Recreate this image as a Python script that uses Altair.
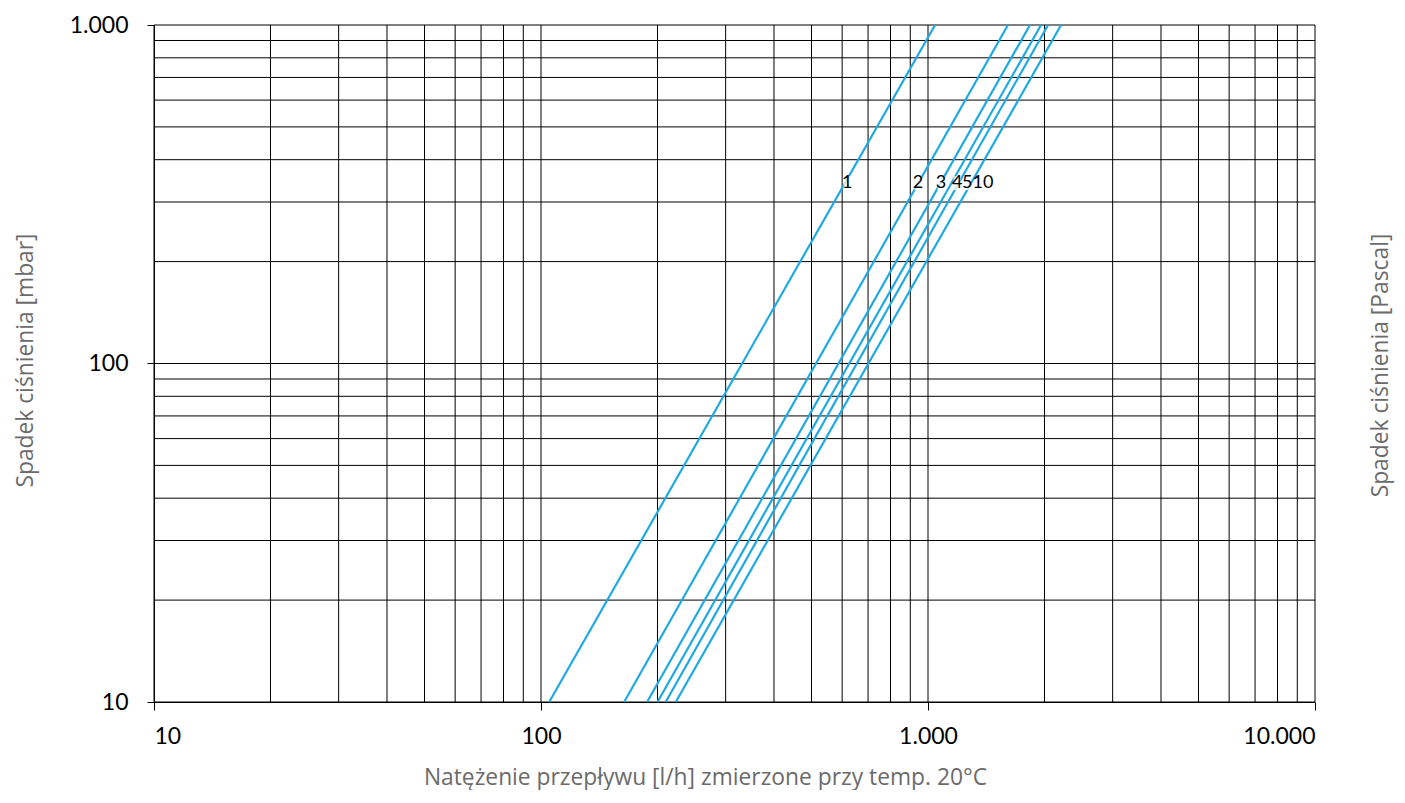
import altair as alt
import pandas as pd

# ---- data ----
series = ["1", "2", "3", "4", "5", "10"]
flow_at_10_mbar = [105, 164, 188, 200, 210, 223]        # l/h where each line meets 10 mbar
flow_at_1000_mbar = [1043, 1609, 1834, 1959, 2042, 2207]  # l/h where each line meets 1000 mbar
pressure_ends = [10, 1000]

label_flow = [618, 942, 1081, 1189, 1262, 1387]
label_pressure = [341, 341, 341, 341, 341, 341]

grid_x = [10, 20, 30, 40, 50, 60, 70, 80, 90,
          100, 200, 300, 400, 500, 600, 700, 800, 900,
          1000, 2000, 3000, 4000, 5000, 6000, 7000, 8000, 9000, 10000]
grid_y = [10, 20, 30, 40, 50, 60, 70, 80, 90,
          100, 200, 300, 400, 500, 600, 700, 800, 900, 1000]
x_major = [10, 100, 1000, 10000]
y_major = [10, 100, 1000]

# ---- tables ----
rows = []
for s, q0, q1 in zip(series, flow_at_10_mbar, flow_at_1000_mbar):
    rows.append({"series": s, "flow": q0, "pressure": pressure_ends[0]})
    rows.append({"series": s, "flow": q1, "pressure": pressure_ends[1]})
lines_df = pd.DataFrame(rows)
labels_df = pd.DataFrame({"label": series, "flow": label_flow, "pressure": label_pressure})
gx_df = pd.DataFrame({"v": grid_x})
gy_df = pd.DataFrame({"v": grid_y})

FONT = "Lato"
TFONT = "Open Sans"
TSIZE = 22.8
TITLE_COLOR = "#6b6b6b"
LINE_COLOR = "#1fa9e1"

xscale = alt.Scale(type="log", domain=[10, 10000], nice=False)
yscale = alt.Scale(type="log", domain=[10, 1000], nice=False)

x_axis = alt.Axis(
    values=x_major, grid=False, tickSize=8, tickColor="black", domainColor="black",
    labelColor="black", labelFontSize=23, labelFont=FONT, labelPadding=15,
    labelExpr="replace(format(datum.value, ','), ',', '.')",
    title="Natężenie przepływu [l/h] zmierzone przy temp. 20°C",
    titleFont=TFONT, titleFontSize=TSIZE, titleFontWeight="normal", titleColor=TITLE_COLOR,
    titleX=551, titleY=82, titleBaseline="alphabetic", titleAlign="center",
)
y_axis = alt.Axis(
    values=y_major, grid=False, tickSize=7, tickColor="black", domainColor="black",
    labelColor="black", labelFontSize=23, labelFont=FONT, labelPadding=19,
    labelExpr="replace(format(datum.value, ','), ',', '.')",
    title="Spadek ciśnienia [mbar]",
    titleFont=TFONT, titleFontSize=TSIZE, titleFontWeight="normal", titleColor=TITLE_COLOR,
    titleAngle=270, titleX=-129, titleY=335, titleBaseline="middle", titleAlign="center",
)

grid_v = alt.Chart(gx_df).mark_rule(color="black", strokeWidth=1).encode(
    x=alt.X("v:Q", scale=xscale, axis=x_axis)
)
grid_h = alt.Chart(gy_df).mark_rule(color="black", strokeWidth=1).encode(
    y=alt.Y("v:Q", scale=yscale, axis=y_axis)
)
lines = alt.Chart(lines_df).mark_line(color=LINE_COLOR, strokeWidth=2.2).encode(
    x=alt.X("flow:Q", scale=xscale),
    y=alt.Y("pressure:Q", scale=yscale),
    detail="series:N",
)
narrow_box = "M-0.25,-0.5L0.25,-0.5L0.25,0.5L-0.25,0.5Z"
wide_box = "M-0.45,-0.5L0.45,-0.5L0.45,0.5L-0.45,0.5Z"
boxes1 = alt.Chart(labels_df).transform_filter("length(datum.label) == 1").mark_point(
    shape=narrow_box, filled=True, color="white", opacity=0.75, size=784, strokeWidth=0
).encode(x=alt.X("flow:Q", scale=xscale), y=alt.Y("pressure:Q", scale=yscale))
boxes2 = alt.Chart(labels_df).transform_filter("length(datum.label) == 2").mark_point(
    shape=wide_box, filled=True, color="white", opacity=0.75, size=784, strokeWidth=0
).encode(x=alt.X("flow:Q", scale=xscale), y=alt.Y("pressure:Q", scale=yscale))
texts = alt.Chart(labels_df).mark_text(
    font=FONT, fontSize=18, color="black", align="center", baseline="middle"
).encode(
    x=alt.X("flow:Q", scale=xscale),
    y=alt.Y("pressure:Q", scale=yscale),
    text="label:N",
)

main = alt.layer(grid_v, grid_h, lines, boxes1, boxes2, texts)

right = alt.Chart(labels_df).mark_point(opacity=0).encode(
    x=alt.X("flow:Q", scale=xscale),
    y=alt.Y("pressure:Q", scale=alt.Scale(type="log", domain=[10, 1000], nice=False),
            axis=alt.Axis(orient="right", labels=False, ticks=False, domain=False, grid=False,
                          title="Spadek ciśnienia [Pascal]", titleFont=TFONT, titleFontSize=TSIZE,
                          titleFontWeight="normal", titleColor=TITLE_COLOR, titleAngle=270,
                          titleX=65, titleY=340, titleBaseline="middle", titleAlign="center")),
)

chart = alt.layer(main, right).resolve_scale(y="independent").properties(
    width=1161, height=677,
    autosize=alt.AutoSizeParams(type="none"),
    padding={"left": 146, "top": 17, "right": 82, "bottom": 88},
    background="white",
).configure_view(stroke=None)

chart.save("out.html", embed_options={"renderer": "svg", "actions": False})
